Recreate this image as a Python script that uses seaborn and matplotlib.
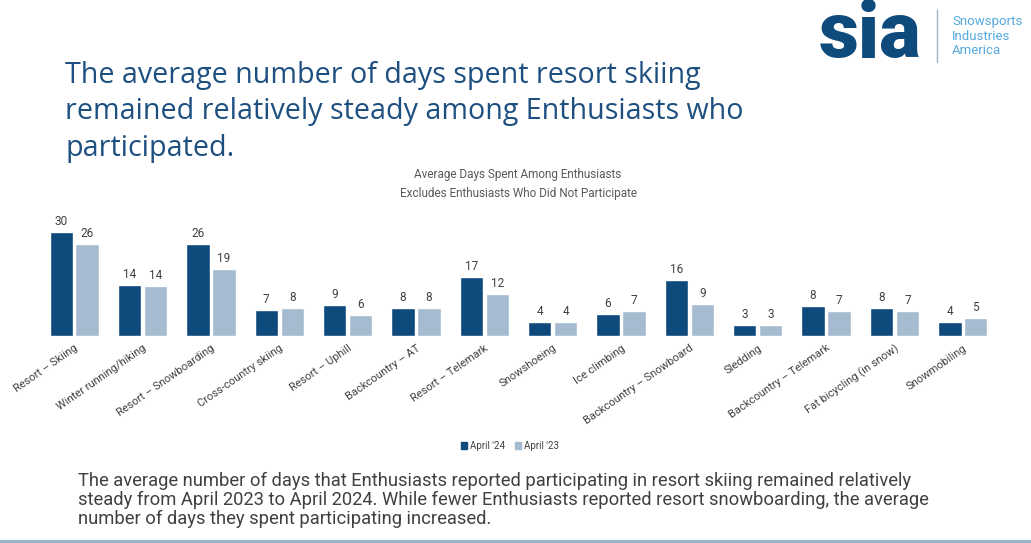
import matplotlib
matplotlib.use("Agg")
import matplotlib.pyplot as plt
import pandas as pd
import seaborn as sns
from matplotlib.patches import Patch

# data
activities = ["Resort – Skiing", "Winter running/hiking", "Resort – Snowboarding",
              "Cross-country skiing", "Resort – Uphill", "Backcountry – AT",
              "Resort – Telemark", "Snowshoeing", "Ice climbing",
              "Backcountry – Snowboard", "Sledding", "Backcountry – Telemark",
              "Fat bicycling (in snow)", "Snowmobiling"]
april_24 = [29.6, 14.5, 26.1, 7.3, 8.7, 8.0, 16.8, 4.0, 6.2, 15.9, 3.0, 8.4, 7.9, 4.0]
april_23 = [26.2, 14.3, 19.0, 8.0, 6.0, 8.0, 12.0, 4.0, 7.1, 9.1, 3.0, 7.1, 7.1, 5.1]
series = ["April '24", "April '23"]

DARK = "#0E4A7B"
LIGHT = "#A5BBCF"

df = pd.DataFrame({
    "Activity": activities * 2,
    "Days": april_24 + april_23,
    "Wave": [series[0]] * len(activities) + [series[1]] * len(activities),
})

sns.set_style("white")
plt.rcParams["font.family"] = ["Roboto", "DejaVu Sans"]

fig = plt.figure(figsize=(10.31, 5.43), dpi=100)
ax = fig.add_axes([40 / 1031, 207 / 543, 957 / 1031, 116 / 543])

sns.barplot(data=df, x="Activity", y="Days", hue="Wave", palette=[DARK, LIGHT],
            width=0.76, gap=0.1, saturation=1, ax=ax, legend=False)

for cont in ax.containers:
    ax.bar_label(cont, labels=[f"{v:.0f}" for v in cont.datavalues],
                 padding=3, fontsize=8.5, color="#404040")

ax.set_ylim(0, 33)
ax.set_xlim(-0.5, len(activities) - 0.5)
ax.set_xlabel("")
ax.set_ylabel("")
ax.set_yticks([])
ax.tick_params(axis="x", length=0, pad=5)
plt.setp(ax.get_xticklabels(), rotation=35, ha="right", rotation_mode="anchor",
         fontsize=8, color="#404040")
sns.despine(ax=ax, left=True, bottom=True)

# legend below the chart
handles = [Patch(color=DARK), Patch(color=LIGHT)]
fig.legend(handles, series, loc="center", bbox_to_anchor=(510 / 1031, 1 - 446 / 543),
           ncol=2, frameon=False, fontsize=7, handlelength=0.6, handleheight=0.6,
           handletextpad=0.3, columnspacing=1.0, labelcolor="#404040")

# headline
fig.text(65 / 1031, 1 - 61 / 543,
         "The average number of days spent resort skiing\n"
         "remained relatively steady among Enthusiasts who\n"
         "participated.",
         fontsize=20.6, color="#1D4F80", va="top", ha="left", linespacing=1.34,
         family=["Open Sans", "DejaVu Sans"])

# chart title
fig.text(518 / 1031, 1 - 174 / 543, "Average Days Spent Among Enthusiasts",
         fontsize=8.5, color="#595959", ha="center", va="center")
fig.text(518 / 1031, 1 - 193 / 543, "Excludes Enthusiasts Who Did Not Participate",
         fontsize=8.5, color="#595959", ha="center", va="center")

# footnote text
fig.text(78 / 1031, 1 - 472 / 543,
         "The average number of days that Enthusiasts reported participating in resort skiing remained relatively\n"
         "steady from April 2023 to April 2024. While fewer Enthusiasts reported resort snowboarding, the average\n"
         "number of days they spent participating increased.",
         fontsize=13.2, color="#404040", va="top", ha="left", linespacing=1.07)

# logo
fig.text(819 / 1031, 1 - 36 / 543, "sia", fontsize=56, fontweight="heavy",
         color="#0E4A7B", va="center", ha="left", family=["Roboto", "DejaVu Sans"])
fig.add_artist(plt.Line2D([937 / 1031, 937 / 1031], [1 - 10 / 543, 1 - 62 / 543],
                          color="#9DB3C8", lw=1))
fig.text(952 / 1031, 1 - 36 / 543, "Snowsports\nIndustries\nAmerica",
         fontsize=9.5, color="#55A9DE", va="center", ha="left", linespacing=1.15)

# bottom rule
fig.add_artist(plt.Line2D([0, 1], [1.5 / 543, 1.5 / 543], color="#9BB5CC", lw=3))

fig.savefig("out.png", dpi=100)
